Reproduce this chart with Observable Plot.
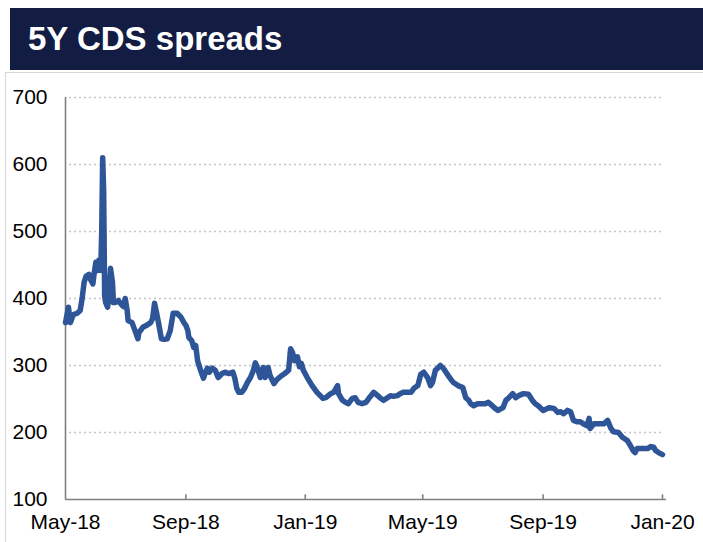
<!DOCTYPE html>
<html>
<head>
<meta charset="utf-8">
<script src="https://cdn.jsdelivr.net/npm/d3@7"></script>
<script src="https://cdn.jsdelivr.net/npm/@observablehq/plot@0.6"></script>
<style>
  html, body { margin: 0; padding: 0; background: #fff; }
  #wrap { position: relative; width: 703px; height: 542px; overflow: hidden; background: #fff; font-family: "Liberation Sans", Arial, sans-serif; }
  #bar { position: absolute; left: 10px; top: 8px; width: 693px; height: 62px; background: #131c43; }
  #bar span { position: absolute; left: 18px; top: 13px; color: #fff; font-weight: bold; font-size: 33px; line-height: 36px; }
  #frame { position: absolute; left: 5px; top: 72px; width: 698px; height: 470px; border-left: 1px solid #d6d6d6; border-top: 1px solid #d6d6d6; box-sizing: border-box; }
  #chart { position: absolute; left: 0; top: 72px; }
</style>
</head>
<body>
<div id="wrap">
  <div id="bar"><span>5Y CDS spreads</span></div>
  <div id="frame"></div>
  <div id="chart"></div>
</div>
<script>
const dates = [
"2018-05-01","2018-05-03","2018-05-04","2018-05-06","2018-05-09","2018-05-13","2018-05-16","2018-05-18","2018-05-20","2018-05-22",
"2018-05-25","2018-05-27","2018-05-29","2018-05-30","2018-06-01","2018-06-03","2018-06-04","2018-06-06","2018-06-07","2018-06-08",
"2018-06-09","2018-06-10","2018-06-11","2018-06-13","2018-06-14","2018-06-16","2018-06-18","2018-06-19","2018-06-21","2018-06-24",
"2018-06-26","2018-06-29","2018-07-01","2018-07-03","2018-07-04","2018-07-08","2018-07-11","2018-07-14","2018-07-15","2018-07-19",
"2018-07-23","2018-07-27","2018-07-29","2018-07-31","2018-08-02","2018-08-04","2018-08-07","2018-08-10","2018-08-13","2018-08-16",
"2018-08-19","2018-08-23","2018-08-27","2018-08-30","2018-09-01","2018-09-03","2018-09-04","2018-09-07","2018-09-09","2018-09-11",
"2018-09-13","2018-09-16","2018-09-19","2018-09-21","2018-09-23","2018-09-25","2018-09-28","2018-10-01","2018-10-04","2018-10-08",
"2018-10-11","2018-10-15","2018-10-19","2018-10-21","2018-10-23","2018-10-25","2018-10-28","2018-10-31","2018-11-03","2018-11-06",
"2018-11-09","2018-11-11","2018-11-13","2018-11-16","2018-11-19","2018-11-21","2018-11-24","2018-11-26","2018-11-30","2018-12-03",
"2018-12-07","2018-12-11","2018-12-15","2018-12-17","2018-12-19","2018-12-21","2018-12-24","2018-12-26","2018-12-28","2018-12-30",
"2019-01-03","2019-01-08","2019-01-13","2019-01-19","2019-01-22","2019-01-27","2019-01-30","2019-02-03","2019-02-04","2019-02-08",
"2019-02-11","2019-02-14","2019-02-18","2019-02-21","2019-02-24","2019-02-28","2019-03-04","2019-03-07","2019-03-12","2019-03-16",
"2019-03-19","2019-03-22","2019-03-26","2019-03-29","2019-04-01","2019-04-05","2019-04-08","2019-04-11","2019-04-15","2019-04-19",
"2019-04-22","2019-04-26","2019-04-29","2019-05-02","2019-05-06","2019-05-09","2019-05-11","2019-05-14","2019-05-19","2019-05-22",
"2019-05-27","2019-06-01","2019-06-06","2019-06-11","2019-06-14","2019-06-17","2019-06-19","2019-06-22","2019-06-26","2019-06-29",
"2019-07-04","2019-07-07","2019-07-11","2019-07-14","2019-07-17","2019-07-22","2019-07-25","2019-07-28","2019-08-01","2019-08-04",
"2019-08-07","2019-08-12","2019-08-17","2019-08-21","2019-08-24","2019-08-27","2019-09-01","2019-09-07","2019-09-12","2019-09-16",
"2019-09-19","2019-09-22","2019-09-26","2019-09-29","2019-10-02","2019-10-06","2019-10-09","2019-10-12","2019-10-16","2019-10-18",
"2019-10-19","2019-10-23","2019-10-28","2019-11-02","2019-11-06","2019-11-09","2019-11-12","2019-11-17","2019-11-21","2019-11-26",
"2019-11-29","2019-12-02","2019-12-04","2019-12-06","2019-12-12","2019-12-17","2019-12-20","2019-12-23","2019-12-25","2019-12-28",
"2020-01-01"
];
const spreads = [
364,379,387,364,376,378,382,400,424,433,
436,427,422,434,454,442,457,442,501,610,
561,404,394,387,400,445,424,394,394,397,
393,388,400,382,367,364,352,340,349,357,
360,364,370,393,379,364,340,339,340,352,
378,378,372,364,360,352,342,337,327,330,
307,293,281,290,296,290,296,293,282,288,
290,288,290,281,266,260,260,266,275,282,
293,304,297,282,297,282,297,285,273,279,
284,288,293,325,319,307,313,298,303,293,
282,270,260,251,252,258,260,270,258,248,
245,243,251,252,245,243,245,251,260,255,
251,248,252,255,254,255,258,260,260,260,
266,270,287,290,282,270,275,293,300,296,
285,275,270,267,252,248,243,240,243,243,
243,245,240,236,233,237,248,252,258,252,
255,258,257,248,243,240,233,237,236,230,
231,228,233,231,218,216,216,213,210,221,
206,213,213,213,218,207,201,200,193,188,
181,173,170,176,176,176,179,178,173,170,
167
];
const yTicks = [100, 200, 300, 400, 500, 600, 700];
const gridTicks = [200, 300, 400, 500, 600, 700];
const xTickDates = ["2018-05-01","2018-09-01","2019-01-01","2019-05-01","2019-09-01","2020-01-01"];

const parse = d3.utcParse("%Y-%m-%d");
const data = dates.map((d, i) => ({date: parse(d), value: spreads[i]}));
const xTicks = xTickDates.map(parse);
const fmt = d3.utcFormat("%b-%y");

const chart = Plot.plot({
  width: 703,
  height: 470,
  marginTop: 25,
  marginBottom: 43,
  marginLeft: 65,
  marginRight: 41,
  style: {fontFamily: "'Liberation Sans', Arial, sans-serif", fontSize: "21px", color: "#000", background: "transparent", overflow: "visible"},
  x: {type: "utc", domain: [xTicks[0], xTicks[xTicks.length - 1]]},
  y: {domain: [100, 700]},
  marks: [
    Plot.ruleY(gridTicks, {stroke: "#c4c4c4", strokeWidth: 1.6, strokeDasharray: "2 3", insetLeft: 4}),
    Plot.ruleX([xTicks[0]], {y1: 100, y2: 700, stroke: "#808080", strokeWidth: 1.6}),
    Plot.ruleY([100], {stroke: "#808080", strokeWidth: 1.6, insetRight: -4}),
    Plot.ruleX(xTicks.slice(1), {y1: 100, y2: 107, stroke: "#808080", strokeWidth: 1.6}),
    Plot.axisY({ticks: yTicks, tickSize: 0, tickPadding: 18, fontSize: 21, fill: "#000", label: null}),
    Plot.axisX({ticks: xTicks, tickSize: 0, tickPadding: 15, tickFormat: fmt, fontSize: 21, fill: "#000", label: null}),
    Plot.line(data, {x: "date", y: "value", stroke: "#2e5597", strokeWidth: 5.5, strokeLinejoin: "round", strokeLinecap: "round"})
  ]
});
document.getElementById("chart").appendChild(chart);
</script>
</body>
</html>
